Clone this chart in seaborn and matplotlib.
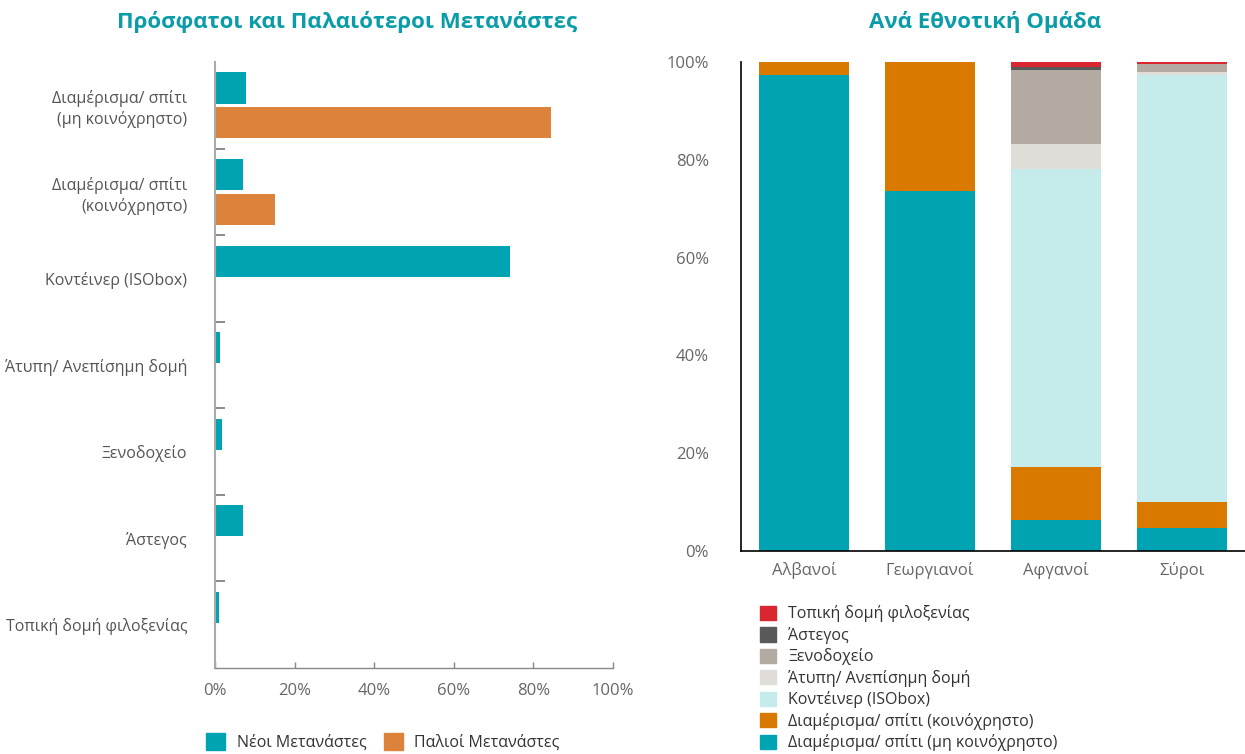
import matplotlib
matplotlib.use("Agg")
import matplotlib.pyplot as plt
import matplotlib.patches as mpatches
import pandas as pd
import seaborn as sns

# left chart: recent vs older migrants
categories = ["Διαμέρισμα/ σπίτι\n(μη κοινόχρηστο)", "Διαμέρισμα/ σπίτι\n(κοινόχρηστο)",
              "Κοντέινερ (ISObox)", "Άτυπη/ Ανεπίσημη δομή", "Ξενοδοχείο", "Άστεγος",
              "Τοπική δομή φιλοξενίας"]
new_migrants = [7.8, 7.0, 74.1, 1.2, 1.8, 7.0, 1.0]
old_migrants = [84.4, 15.1, 0, 0, 0, 0, 0]
group_names = ["Νέοι Μετανάστες", "Παλιοί Μετανάστες"]

# right chart: by ethnic group (stacked, bottom to top)
ethnic_groups = ["Αλβανοί", "Γεωργιανοί", "Αφγανοί", "Σύροι"]
housing_types = ["Διαμέρισμα/ σπίτι (μη κοινόχρηστο)", "Διαμέρισμα/ σπίτι (κοινόχρηστο)",
                 "Κοντέινερ (ISObox)", "Άτυπη/ Ανεπίσημη δομή", "Ξενοδοχείο", "Άστεγος",
                 "Τοπική δομή φιλοξενίας"]
apt_private = [97.3, 73.6, 6.3, 4.7]
apt_shared = [2.7, 26.4, 10.9, 5.3]
container = [0, 0, 60.9, 87.3]
informal = [0, 0, 5.1, 0.6]
hotel = [0, 0, 15.2, 1.6]
homeless = [0, 0, 0.5, 0]
local_shelter = [0, 0, 1.1, 0.5]

teal = "#00A3B1"
orange_l = "#DD823A"
stack_colors = ["#00A3B1", "#D97900", "#C5EBEB", "#E0DDD9", "#B3ABA2", "#595959", "#DA2630"]
title_col = "#0A9CA8"
grey_txt = "#666666"

sns.set_style("white")
plt.rcParams["font.family"] = ["Open Sans", "DejaVu Sans"]

fig = plt.figure(figsize=(12.45, 7.54), dpi=100)
ax1 = fig.add_axes([215/1245, 86/754, 398/1245, 606/754])
ax2 = fig.add_axes([741/1245, 203/754, 504/1245, 489/754])

# ---- left
df1 = pd.DataFrame({
    "cat": categories * 2,
    "grp": [group_names[0]] * len(categories) + [group_names[1]] * len(categories),
    "val": new_migrants + old_migrants,
})
sns.barplot(data=df1, y="cat", x="val", hue="grp", order=categories, hue_order=group_names,
            palette=[teal, orange_l], orient="h", width=0.8, gap=0.1, ax=ax1, legend=False,
            saturation=1, linewidth=0)
ax1.set_xlim(0, 100)
ax1.set_ylim(6.5, -0.5)
ax1.set_xticks(range(0, 101, 20))
ax1.set_xticklabels([f"{v}%" for v in range(0, 101, 20)])
ax1.set_xlabel("")
ax1.set_ylabel("")
ax1.set_yticks(range(len(categories)))
ax1.set_yticklabels(categories, ha="right", linespacing=1.3)
ax1.set_yticks([i + 0.5 for i in range(6)], minor=True)
ax1.tick_params(axis="y", which="major", length=0, pad=20, labelsize=11.5, labelcolor="#555555")
ax1.tick_params(axis="y", which="minor", direction="in", length=7, width=1.2, color="#777777", left=True)
ax1.tick_params(axis="x", direction="in", length=4, width=1, color="#888888", pad=11,
                labelsize=12, labelcolor=grey_txt, bottom=True)
for s in ["top", "right"]:
    ax1.spines[s].set_visible(False)
ax1.spines["left"].set_color("#AAAAAA")
ax1.spines["left"].set_linewidth(1.5)
ax1.spines["bottom"].set_color("#888888")
ax1.spines["bottom"].set_linewidth(1)

h1 = [mpatches.Patch(color=teal), mpatches.Patch(color=orange_l)]
fig.legend(h1, group_names, loc="center", bbox_to_anchor=(383/1245, 12/754), ncol=2,
           frameon=False, handlelength=1.2, handleheight=1.2, handletextpad=0.7,
           columnspacing=1.1, fontsize=11.5, labelcolor="#333333")

# ---- right: stacked via cumulative overlays
layers = [apt_private, apt_shared, container, informal, hotel, homeless, local_shelter]
cum = []
running = [0] * len(ethnic_groups)
for layer in layers:
    running = [a + b for a, b in zip(running, layer)]
    cum.append(running)
for i in range(len(layers) - 1, -1, -1):
    sns.barplot(x=ethnic_groups, y=cum[i], color=stack_colors[i], width=0.72,
                saturation=1, linewidth=0, ax=ax2)
ax2.set_xlim(-0.5, 3.5)
ax2.set_ylim(0, 100)
ax2.set_yticks(range(0, 101, 20))
ax2.set_yticklabels([f"{v}%" for v in range(0, 101, 20)])
ax2.tick_params(axis="y", length=0, pad=23, labelsize=12, labelcolor=grey_txt)
ax2.tick_params(axis="x", length=0, pad=8, labelsize=12, labelcolor=grey_txt)
for s in ["top", "right"]:
    ax2.spines[s].set_visible(False)
for s in ["left", "bottom"]:
    ax2.spines[s].set_color("black")
    ax2.spines[s].set_linewidth(1.2)

h2 = [mpatches.Patch(color=c) for c in stack_colors][::-1]
fig.legend(h2, housing_types[::-1], loc="upper left", bbox_to_anchor=(754/1245, 1 - 599/754),
           frameon=False, handlelength=1.0, handleheight=1.0, handletextpad=0.75,
           labelspacing=0.28, fontsize=11.5, labelcolor="#333333", borderaxespad=0)

fig.text(347/1245, 1 - 22/754, "Πρόσφατοι και Παλαιότεροι Μετανάστες", ha="center", va="center",
         fontsize=16, fontweight="bold", color=title_col)
fig.text(985/1245, 1 - 22/754, "Ανά Εθνοτική Ομάδα", ha="center", va="center",
         fontsize=16, fontweight="bold", color=title_col)

fig.savefig("out.png", dpi=100)
